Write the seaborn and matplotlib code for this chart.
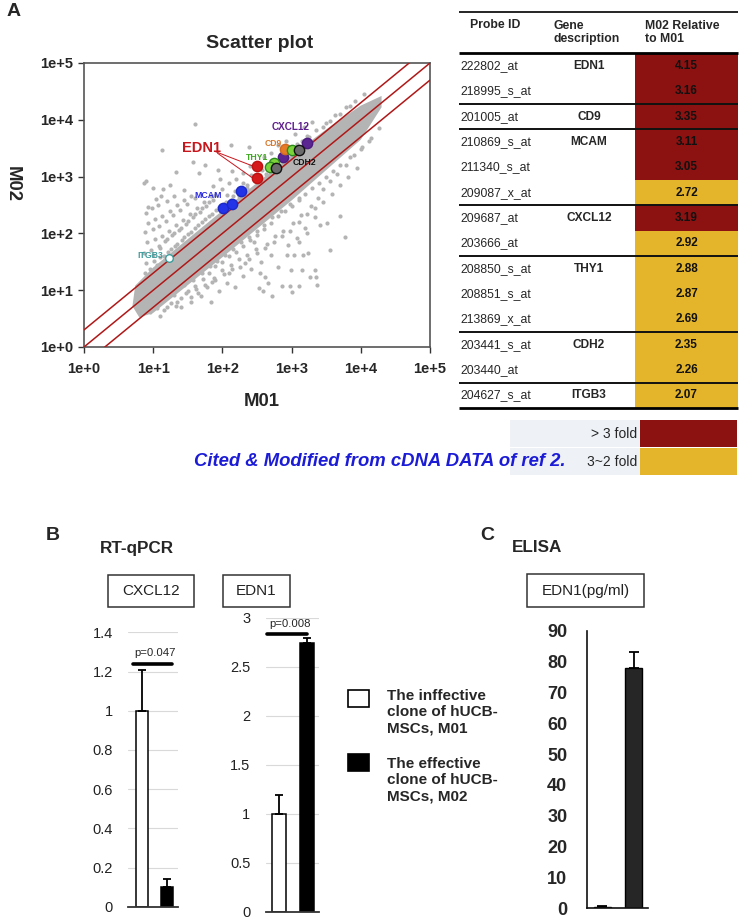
import numpy as np
import pandas as pd
import seaborn as sns
import matplotlib.pyplot as plt
import matplotlib.colors as mcolors
from matplotlib.patches import Rectangle

# ---------------- data ----------------
# scatter plot, values read as log10 from the picture
decade_ticks = [1e0, 1e1, 1e2, 1e3, 1e4, 1e5]
decade_labels = ["1e+0", "1e+1", "1e+2", "1e+3", "1e+4", "1e+5"]
fold_lines = [0.5, 1.0, 2.0]

# dense core of probes (outline of the solid grey band)
band_upper_m01 = [0.70, 0.74, 1.00, 2.00, 3.00, 3.60, 4.00, 4.30]
band_upper_m02 = [0.72, 1.08, 1.40, 2.40, 3.38, 3.92, 4.25, 4.42]
band_lower_m01 = [4.30, 4.00, 3.00, 2.00, 1.00, 0.80]
band_lower_m02 = [4.22, 3.65, 2.58, 1.58, 0.60, 0.52]

# scattered probes outside the core (log10 M01, log10 M02)
cloud_points = [
    (0.88, 1.30), (0.90, 1.48), (0.87, 1.66), (0.91, 1.84), (0.88, 2.02), (0.92, 2.18), (0.89, 2.36),
    (0.93, 2.47), (0.90, 2.92), (0.87, 2.89), (0.98, 1.33), (1.01, 1.52), (0.97, 1.71), (1.03, 1.90),
    (0.99, 2.07), (1.02, 2.26), (0.98, 2.44), (1.04, 2.60), (0.99, 2.80), (1.07, 1.40), (1.10, 1.58),
    (1.08, 1.78), (1.12, 1.96), (1.09, 2.13), (1.13, 2.31), (1.07, 2.50), (1.11, 2.66), (1.14, 2.79),
    (1.12, 3.46), (1.18, 1.50), (1.21, 1.68), (1.17, 1.86), (1.23, 2.04), (1.19, 2.22), (1.24, 2.40),
    (1.20, 2.57), (1.24, 2.85), (1.28, 1.60), (1.31, 1.78), (1.27, 1.97), (1.33, 2.14), (1.29, 2.33),
    (1.34, 2.50), (1.30, 2.66), (1.33, 3.08), (1.38, 1.70), (1.41, 1.88), (1.37, 2.06), (1.43, 2.24),
    (1.39, 2.42), (1.44, 2.58), (1.45, 2.77), (1.48, 1.80), (1.51, 1.99), (1.47, 2.16), (1.53, 2.34),
    (1.49, 2.52), (1.54, 2.66), (1.58, 1.92), (1.61, 2.10), (1.57, 2.28), (1.63, 2.45), (1.60, 2.62),
    (1.58, 3.25), (1.60, 3.93), (1.66, 3.06), (1.68, 2.02), (1.71, 2.20), (1.67, 2.38), (1.73, 2.56),
    (1.75, 3.21), (1.78, 2.12), (1.81, 2.30), (1.77, 2.48), (1.83, 2.66), (1.86, 2.83), (1.88, 2.22),
    (1.91, 2.42), (1.87, 2.58), (1.93, 3.11), (1.98, 2.34), (2.02, 2.52), (2.06, 2.68), (1.97, 2.96),
    (2.08, 2.45), (2.12, 2.58), (2.12, 3.56), (2.14, 3.09), (2.18, 2.75), (2.24, 2.66), (2.30, 2.88),
    (2.36, 2.80), (2.39, 3.52), (2.42, 3.02), (2.50, 2.95), (2.57, 3.12), (2.63, 3.05), (2.70, 3.25),
    (2.78, 3.22), (2.86, 3.38), (2.95, 3.45), (3.08, 3.58), (3.22, 3.72), (3.35, 3.82), (3.50, 3.95),
    (3.62, 4.08), (3.78, 4.22), (3.92, 4.33), (4.05, 4.45),
    (0.95, 1.38), (1.05, 1.45), (1.15, 1.60), (1.25, 1.72), (1.35, 1.82), (1.45, 1.93), (1.55, 2.02),
    (1.65, 2.15), (1.75, 2.26), (1.85, 2.35), (1.95, 2.46), (2.05, 2.55), (2.15, 2.66), (2.25, 2.74),
    (2.35, 2.86), (2.45, 2.95), (2.55, 3.03), (2.65, 3.16), (2.75, 3.25), (2.85, 3.33), (2.95, 3.44),
    (3.05, 3.50), (3.15, 3.62), (3.25, 3.70), (3.45, 3.88), (3.55, 3.98), (3.70, 4.10), (3.85, 4.25),
    (1.00, 1.62), (1.10, 1.75), (1.20, 1.90), (1.30, 2.00), (1.40, 2.10), (1.50, 2.22), (1.60, 2.35),
    (1.70, 2.44), (1.80, 2.55), (1.90, 2.68), (2.00, 2.78), (2.10, 2.88), (2.20, 2.95), (2.30, 3.06),
    (2.40, 3.18), (2.50, 3.22), (2.60, 3.35), (2.70, 3.42), (2.80, 3.55), (2.92, 3.62), (3.05, 3.75),
    (3.18, 3.88), (3.30, 3.96),
    (0.95, 0.62), (1.05, 0.68), (1.15, 0.66), (1.25, 0.77), (1.33, 0.72), (1.40, 0.86), (1.48, 0.95),
    (1.55, 0.80), (1.62, 1.02), (1.69, 0.89), (1.75, 1.10), (1.83, 0.80), (1.88, 1.22), (1.95, 0.98),
    (2.00, 1.35), (2.06, 1.12), (2.12, 1.45), (2.18, 1.05), (2.24, 1.55), (2.30, 1.25), (2.36, 1.62),
    (2.42, 1.38), (2.48, 1.72), (2.53, 1.03), (2.56, 1.50), (2.59, 0.99), (2.62, 1.24), (2.64, 1.82),
    (2.66, 1.12), (2.70, 1.62), (2.71, 0.90), (2.76, 1.95), (2.80, 1.40), (2.86, 1.08), (2.88, 2.05),
    (2.93, 1.62), (2.95, 1.80), (2.98, 1.08), (2.99, 1.36), (3.00, 0.97), (3.02, 2.18), (3.03, 1.62),
    (3.08, 1.92), (3.10, 1.07), (3.10, 1.85), (3.14, 2.32), (3.15, 1.36), (3.17, 1.62), (3.20, 2.10),
    (3.22, 2.00), (3.24, 1.65), (3.27, 1.24), (3.28, 2.48), (3.34, 1.36), (3.35, 1.24), (3.36, 1.09),
    (3.34, 2.28), (3.38, 2.62), (3.41, 2.15), (3.46, 2.78), (3.51, 2.18), (3.55, 1.71), (3.56, 2.92),
    (3.66, 3.05), (3.70, 2.31), (3.77, 1.93), (3.78, 3.20), (3.90, 3.38), (4.02, 3.52), (4.15, 3.68),
    (4.26, 3.85), (1.30, 0.92), (1.45, 1.10), (1.58, 1.18), (1.70, 1.30), (1.82, 1.42), (1.92, 1.52),
    (2.04, 1.62), (2.15, 1.72), (2.27, 1.84), (2.38, 1.94), (2.50, 2.05), (2.60, 2.15), (2.72, 2.28),
    (2.85, 2.40), (2.97, 2.52), (3.10, 2.62), (1.62, 1.38), (1.85, 1.15), (2.10, 1.30), (2.33, 1.48),
    (2.55, 1.30), (2.45, 1.85),
    (1.10, 0.55), (1.20, 0.70), (1.35, 0.80), (1.50, 0.98), (1.60, 1.08), (1.72, 1.20), (1.80, 1.30),
    (1.90, 1.42), (2.00, 1.50), (2.10, 1.60), (2.20, 1.68), (2.30, 1.78), (2.40, 1.88), (2.50, 1.98),
    (2.60, 2.08), (2.70, 2.18), (2.80, 2.30), (2.90, 2.40), (3.00, 2.48), (3.10, 2.58), (3.20, 2.70),
    (3.30, 2.80), (3.40, 2.88), (3.50, 3.00), (3.60, 3.10), (3.70, 3.20), (3.85, 3.34), (4.00, 3.48),
    (4.12, 3.62), (1.40, 0.70), (1.55, 0.88), (1.65, 0.95), (1.78, 1.05), (1.90, 1.18), (2.02, 1.28),
    (2.14, 1.38), (2.26, 1.40), (2.38, 1.55), (2.50, 1.65), (2.62, 1.75), (2.74, 1.85), (2.86, 1.95),
    (2.98, 2.05), (3.10, 2.20), (3.22, 2.35), (3.34, 2.45), (3.46, 2.55), (3.58, 2.70), (3.70, 2.85),
    (3.82, 3.00), (3.95, 3.15),
]

# highlighted genes in the scatter plot
hl_gene = ["EDN1", "EDN1", "MCAM", "MCAM", "MCAM", "CXCL12", "CXCL12", "CD9",
           "THY1", "THY1", "THY1", "CDH2", "CDH2", "ITGB3"]
hl_m01 = [316, 316, 102, 139, 186, 1670, 759, 811, 1014, 562, 487, 1279, 601, 17.1]
hl_m02 = [1514, 933, 276, 329, 557, 3857, 2188, 3098, 2904, 1757, 1494, 2978, 1435, 37.3]

# table
probe_ids = ["222802_at", "218995_s_at", "201005_at", "210869_s_at", "211340_s_at", "209087_x_at",
             "209687_at", "203666_at", "208850_s_at", "208851_s_at", "213869_x_at", "203441_s_at",
             "203440_at", "204627_s_at"]
probe_genes = ["EDN1", "", "CD9", "MCAM", "", "", "CXCL12", "", "THY1", "", "", "CDH2", "", "ITGB3"]
fold_change = [4.15, 3.16, 3.35, 3.11, 3.05, 2.72, 3.19, 2.92, 2.88, 2.87, 2.69, 2.35, 2.26, 2.07]

# RT-qPCR and ELISA
clones = ["M01", "M02"]
cxcl12_mean = [1.00, 0.10]
cxcl12_err = [0.21, 0.04]
edn1_mean = [1.00, 2.745]
edn1_err = [0.19, 0.05]
elisa_mean = [0.5, 77.9]
elisa_err = [0.3, 5.2]
cxcl12_ticks = [0, 0.2, 0.4, 0.6, 0.8, 1.0, 1.2, 1.4]
cxcl12_ticklabels = ["0", "0.2", "0.4", "0.6", "0.8", "1", "1.2", "1.4"]
edn1_ticks = [0, 0.5, 1.0, 1.5, 2.0, 2.5, 3.0]
edn1_ticklabels = ["0", "0.5", "1", "1.5", "2", "2.5", "3"]
elisa_ticks = [0, 10, 20, 30, 40, 50, 60, 70, 80, 90]

# ---------------- style ----------------
GREY = "#b4b4b4"
LINE_RED = "#b01818"
CELL_RED = "#8c1212"
CELL_YEL = "#e4b52a"
gene_face = {"EDN1": "#d41a1a", "MCAM": "#2233e8", "CXCL12": "#5a2590", "CD9": "#e57b27",
             "THY1": "#7bd43a", "CDH2": "#6b6b6b", "ITGB3": "white"}
gene_edge = {"EDN1": "#c01010", "MCAM": "#1a28c8", "CXCL12": "#4a1a80", "CD9": "#d06a20",
             "THY1": "#2e8b1e", "CDH2": "#111111", "ITGB3": "#3c9c9c"}
gene_text = {"EDN1": "#c8161d", "MCAM": "#2a2ae0", "CXCL12": "#5f1f8f", "CD9": "#d9772a",
             "THY1": "#3ea81f", "CDH2": "#111111", "ITGB3": "#3c9c9c"}
# label placement (data coordinates) and size
label_place = {"EDN1": (50, 3230, 10.5), "MCAM": (62, 469, 6.3), "CXCL12": (970, 7560, 7.2),
               "CD9": (544, 3750, 6.2), "THY1": (313, 2152, 6.2), "CDH2": (1527, 1786, 6.2),
               "ITGB3": (9.0, 40.5, 6.3)}

sns.set_style("white")
plt.rcParams['font.family'] = ['Liberation Sans', 'DejaVu Sans']

W, H = 747, 923
fig = plt.figure(figsize=(W / 100, H / 100), dpi=100)


def px_axes(x0, y0, x1, y1):
    return fig.add_axes([x0 / W, 1 - y1 / H, (x1 - x0) / W, (y1 - y0) / H])


# ---------------- A: scatter ----------------
ax = px_axes(84, 63, 430, 347)
ax.set_xscale("log")
ax.set_yscale("log")
band_x = 10 ** np.array(band_upper_m01 + band_lower_m01)
band_y = 10 ** np.array(band_upper_m02 + band_lower_m02)
ax.fill(band_x, band_y, color=GREY, lw=0, zorder=1)
cloud_m01, cloud_m02 = zip(*cloud_points)
sns.scatterplot(x=10 ** np.array(cloud_m01), y=10 ** np.array(cloud_m02), s=9, color=GREY,
                linewidth=0, ax=ax, zorder=2)
line_x = np.array([decade_ticks[0], decade_ticks[-1]])
for r in fold_lines:
    ax.plot(line_x, line_x * r, color=LINE_RED, lw=1.1, zorder=3)

hl = pd.DataFrame({"gene": hl_gene, "M01": hl_m01, "M02": hl_m02})
for g in hl.gene.unique():
    sub = hl[hl.gene == g]
    size = 30 if g == "ITGB3" else 55
    sns.scatterplot(data=sub, x="M01", y="M02", color=gene_face[g], edgecolor=gene_edge[g],
                    s=size, linewidth=1.0, ax=ax, zorder=5)
    lx, ly, fs = label_place[g]
    ax.text(lx, ly, g, color=gene_text[g], fontsize=fs, fontweight="bold",
            ha="center", va="center", zorder=6)
# leader lines from the EDN1 label
edn = hl[hl.gene == "EDN1"]
for (m01, m02), (sx, sy) in zip(edn[["M01", "M02"]].values, [(80, 2740), (85, 2580)]):
    ax.plot([sx, m01 * 0.86], [sy, m02 * 1.02], color="#c8161d", lw=0.7, zorder=4)

ax.set_xlim(decade_ticks[0], decade_ticks[-1])
ax.set_ylim(decade_ticks[0], decade_ticks[-1])
ax.set_xticks(decade_ticks)
ax.set_yticks(decade_ticks)
ax.set_xticklabels(decade_labels, fontsize=10.5, fontweight="bold")
ax.set_yticklabels(decade_labels, fontsize=10.5, fontweight="bold")
ax.minorticks_off()
ax.tick_params(bottom=True, left=True, length=4, width=1, color="#333333", direction="out")
ax.tick_params(axis="x", pad=7)
ax.tick_params(axis="y", pad=4)
ax.set(xlabel="", ylabel="")
for sp in ax.spines.values():
    sp.set_color("#555555")
    sp.set_linewidth(1.2)

# ---------------- A: table ----------------
hm = px_axes(635, 53.3, 738, 408)
fold_df = pd.DataFrame({"fold": fold_change}, index=probe_ids)
cmap = mcolors.ListedColormap([CELL_YEL, CELL_RED])
norm = mcolors.BoundaryNorm([2, 3, 5], cmap.N)
sns.heatmap(fold_df, ax=hm, cmap=cmap, norm=norm, annot=True, fmt=".2f", cbar=False,
            xticklabels=False, yticklabels=False,
            annot_kws={"color": "#111111", "fontsize": 8.5, "fontweight": "bold"})

HEADER = 1.644
tb = px_axes(459, 11.7, 738, 408)
tb.set_xlim(0, 1)
tb.set_ylim(len(probe_ids), -HEADER)
tb.axis("off")
tb.text(0.039, -1.12, "Probe ID", fontsize=8.8, fontweight="bold", va="center", ha="left")
tb.text(0.337, -0.84, "Gene\ndescription", fontsize=8.8, fontweight="bold", va="center", ha="left",
        linespacing=1.1)
tb.text(0.667, -0.84, "M02 Relative\nto M01", fontsize=8.8, fontweight="bold", va="center", ha="left",
        linespacing=1.1)
for i, (pid, g) in enumerate(zip(probe_ids, probe_genes)):
    tb.text(0.005, i + 0.5, pid, fontsize=8.8, va="center", ha="left")
    if g:
        tb.text(0.466, i + 0.5, g, fontsize=8.6, fontweight="bold", va="center", ha="center")
group_starts = [i for i, g in enumerate(probe_genes) if g and i > 0]
tb.hlines(-HEADER, 0, 1, color="black", lw=1.2, clip_on=False)
tb.hlines(0, 0, 1, color="black", lw=2.0, clip_on=False)
tb.hlines(group_starts, 0, 1, color="#111111", lw=1.4, clip_on=False)
tb.hlines(len(probe_ids), 0, 1, color="black", lw=2.0, clip_on=False)


# ---------------- B: RT-qPCR ----------------
def qpcr_panel(rect, means, errs, ticks, ticklabels, xlim, pval, p_y, p_x0, p_x1, p_text_xy):
    a = px_axes(*rect)
    sns.barplot(x=clones, y=means, hue=clones, palette=["white", "black"], edgecolor="black",
                linewidth=1.1, width=0.5, legend=False, errorbar=None, ax=a)
    a.errorbar([0, 1], means, yerr=[[0, 0], errs], fmt="none", ecolor="black",
               elinewidth=1.3, capsize=3, capthick=1.3, zorder=4)
    a.set_ylim(ticks[0], ticks[-1])
    a.set_xlim(*xlim)
    a.set_yticks(ticks)
    a.set_yticklabels(ticklabels, fontsize=10.5)
    a.set_xticks([])
    a.set(xlabel="", ylabel="")
    a.yaxis.grid(True, color="#d9d9d9", lw=0.8)
    a.set_axisbelow(True)
    a.tick_params(axis="y", length=0, pad=11, colors="#222222")
    for s in ["left", "right", "top"]:
        a.spines[s].set_visible(False)
    a.spines["bottom"].set_color("#333333")
    a.spines["bottom"].set_linewidth(1.3)
    a.plot([p_x0, p_x1], [p_y, p_y], color="black", lw=2.6, clip_on=False, zorder=5)
    a.text(p_text_xy[0], p_text_xy[1], pval, fontsize=8.2, ha="center", va="center")
    return a


qpcr_panel((128, 632.3, 178, 906.7), cxcl12_mean, cxcl12_err, cxcl12_ticks, cxcl12_ticklabels,
           (-0.57, 1.46), "p=0.047", 1.24, -0.38, 1.23, (0.53, 1.293))
qpcr_panel((265.7, 617.7, 319.3, 911.7), edn1_mean, edn1_err, edn1_ticks, edn1_ticklabels,
           (-0.48, 1.455), "p=0.008", 2.83, -0.44, 1.0, (0.40, 2.936))

# ---------------- C: ELISA ----------------
ea = px_axes(586.7, 630.7, 648.3, 908.3)
sns.barplot(x=clones, y=elisa_mean, hue=clones, palette=["#444444", "#262626"], edgecolor="black",
            linewidth=1.0, width=0.55, legend=False, errorbar=None, ax=ea)
ea.errorbar([0, 1], elisa_mean, yerr=[[0, 0], elisa_err], fmt="none", ecolor="black",
            elinewidth=1.3, capsize=3.5, capthick=1.3)
ea.set_ylim(elisa_ticks[0], elisa_ticks[-1])
ea.set_xlim(-0.5, 1.46)
ea.set_yticks(elisa_ticks)
ea.set_yticklabels([str(t) for t in elisa_ticks], fontsize=13, fontweight="bold")
ea.set_xticks([])
ea.set(xlabel="", ylabel="")
ea.tick_params(axis="y", length=0, pad=14)
for s in ["right", "top"]:
    ea.spines[s].set_visible(False)
for s in ["left", "bottom"]:
    ea.spines[s].set_color("#111111")
    ea.spines[s].set_linewidth(1.2)

# ---------------- annotations ----------------
ov = fig.add_axes([0, 0, 1, 1])
ov.set_xlim(0, W)
ov.set_ylim(H, 0)
ov.axis("off")

ov.text(7, 11, "A", fontsize=14, fontweight="bold", ha="left", va="center")
ov.text(260, 43, "Scatter plot", fontsize=14, fontweight="bold", ha="center", va="center")
ov.text(262, 402, "M01", fontsize=13.3, fontweight="bold", ha="center", va="center")
ov.text(12, 184, "M02", fontsize=13.3, fontweight="bold", ha="center", va="center", rotation=270)

# fold legend under the table
ov.add_patch(Rectangle((510, 420), 130, 26.5, color="#eef2f7", lw=0))
ov.add_patch(Rectangle((510, 448), 130, 27, color="#eef2f7", lw=0))
ov.add_patch(Rectangle((640, 420), 97, 26.5, color=CELL_RED, lw=0))
ov.add_patch(Rectangle((640, 448), 97, 27, color=CELL_YEL, lw=0))
ov.text(637, 434, "> 3 fold", fontsize=10, ha="right", va="center")
ov.text(637, 462, "3~2 fold", fontsize=10, ha="right", va="center")
ov.text(565, 462, "Cited & Modified from cDNA DATA of ref 2.", fontsize=13.3, fontweight="bold",
        style="italic", color="#1c1cd6", ha="right", va="center")

ov.text(53, 535, "B", fontsize=14, fontweight="bold", ha="center", va="center")
ov.text(100, 548, "RT-qPCR", fontsize=12.3, fontweight="bold", ha="left", va="center")
ov.text(487, 535, "C", fontsize=14, fontweight="bold", ha="center", va="center")
ov.text(511.5, 548, "ELISA", fontsize=12.3, fontweight="bold", ha="left", va="center")

for (x0, y0, x1, y1), name in [((108, 575, 194, 607), "CXCL12"), ((223, 575, 290, 607), "EDN1"),
                               ((526.7, 574.3, 644, 606.7), "EDN1(pg/ml)")]:
    ov.add_patch(Rectangle((x0, y0), x1 - x0, y1 - y0, fill=False, ec="#333333", lw=1.1))
    ov.text((x0 + x1) / 2, (y0 + y1) / 2, name, fontsize=11, ha="center", va="center", color="#222222")

# bar legend
ov.add_patch(Rectangle((347.7, 690), 21.3, 16.7, fc="white", ec="black", lw=1.2))
ov.add_patch(Rectangle((347.7, 754), 21.3, 16.7, fc="black", ec="black", lw=1.2))
ov.text(386.7, 712.3, "The inffective\nclone of hUCB-\nMSCs, M01", fontsize=11, fontweight="bold",
        ha="left", va="center", linespacing=1.2)
ov.text(386.7, 780, "The effective\nclone of hUCB-\nMSCs, M02", fontsize=11, fontweight="bold",
        ha="left", va="center", linespacing=1.2)

fig.savefig("out.png", dpi=100)
